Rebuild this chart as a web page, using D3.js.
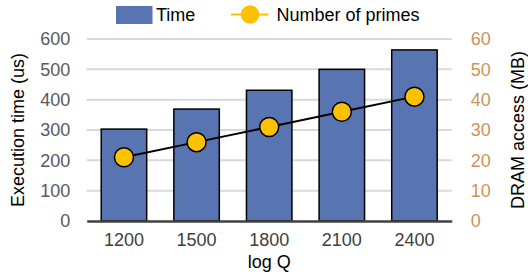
<!DOCTYPE html>
<html>
<head>
<meta charset="utf-8">
<script src="https://cdn.jsdelivr.net/npm/d3@7"></script>
<style>
body { margin: 0; background: #fff; }
text { font-family: "Liberation Sans", Arial, sans-serif; }
</style>
</head>
<body>
<svg id="chart"></svg>
<script>
var categories = ["1200", "1500", "1800", "2100", "2400"]
var timeValues = [303, 369, 431, 500, 564]
var primeValues = [21, 26, 31, 36, 41]
var leftTicks = [0, 100, 200, 300, 400, 500, 600]
var rightTicks = [0, 10, 20, 30, 40, 50, 60]

var svgw = 528
var svgh = 276
var plot = {left: 86.7, right: 451.7, top: 39, bottom: 221}

var svg = d3.select("#chart")
    .attr("width", svgw)
    .attr("height", svgh)

var xscale = d3.scaleBand()
    .domain(categories)
    .range([plot.left, plot.right])
    .paddingInner(0.374)
    .paddingOuter(0.2)

var yleft = d3.scaleLinear()
    .domain([0, 600])
    .range([plot.bottom, plot.top])

var yright = d3.scaleLinear()
    .domain([0, 60])
    .range([plot.bottom, plot.top])

// gridlines
svg.append("g")
    .selectAll("line")
    .data(leftTicks.slice(1))
    .enter()
    .append("line")
    .attr("x1", plot.left)
    .attr("x2", plot.right)
    .attr("y1", function(d){return yleft(d)})
    .attr("y2", function(d){return yleft(d)})
    .attr("stroke", "#d9d9d9")
    .attr("stroke-width", 2)

// left tick labels
var leftAxis = d3.axisLeft(yleft).tickValues(leftTicks).tickSize(0).tickPadding(16.5)
svg.append("g")
    .attr("transform", "translate(" + plot.left + ",0)")
    .call(leftAxis)
    .call(function(g){ g.select(".domain").remove() })
    .selectAll("text")
    .attr("font-size", 18)
    .attr("font-family", "Liberation Sans, Arial, sans-serif")
    .attr("fill", "#595959")

// right tick labels
var rightAxis = d3.axisRight(yright).tickValues(rightTicks).tickSize(0).tickPadding(19)
svg.append("g")
    .attr("transform", "translate(" + plot.right + ",0)")
    .call(rightAxis)
    .call(function(g){ g.select(".domain").remove() })
    .selectAll("text")
    .attr("font-size", 18)
    .attr("font-family", "Liberation Sans, Arial, sans-serif")
    .attr("fill", "#c9955a")

// bars
svg.append("g")
    .selectAll("rect")
    .data(timeValues)
    .enter()
    .append("rect")
    .attr("x", function(d,i){return xscale(categories[i])})
    .attr("y", function(d){return yleft(d)})
    .attr("width", xscale.bandwidth())
    .attr("height", function(d){return plot.bottom - yleft(d)})
    .attr("fill", "#5875b2")
    .attr("stroke", "#000")
    .attr("stroke-width", 1.5)

// baseline
var xAxis = d3.axisBottom(xscale).tickSize(0).tickPadding(12)
svg.append("g")
    .attr("transform", "translate(0," + plot.bottom + ")")
    .call(xAxis)
    .call(function(g){
        g.select(".domain").attr("stroke", "#404040").attr("stroke-width", 2.5)
    })
    .selectAll("text")
    .attr("font-size", 18)
    .attr("font-family", "Liberation Sans, Arial, sans-serif")
    .attr("fill", "#404040")

// line
var line = d3.line()
    .x(function(d,i){return xscale(categories[i]) + xscale.bandwidth()/2})
    .y(function(d){return yright(d)})

svg.append("path")
    .datum(primeValues)
    .attr("d", line)
    .attr("fill", "none")
    .attr("stroke", "#000")
    .attr("stroke-width", 2)

svg.append("g")
    .selectAll("circle")
    .data(primeValues)
    .enter()
    .append("circle")
    .attr("cx", function(d,i){return xscale(categories[i]) + xscale.bandwidth()/2})
    .attr("cy", function(d){return yright(d)})
    .attr("r", 9.5)
    .attr("fill", "#ffc000")
    .attr("stroke", "#000")
    .attr("stroke-width", 1.5)

// axis titles
svg.append("text")
    .attr("transform", "translate(24,130) rotate(-90)")
    .attr("text-anchor", "middle")
    .attr("font-size", 18)
    .attr("fill", "#000")
    .text("Execution time (us)")

svg.append("text")
    .attr("transform", "translate(524,130) rotate(-90)")
    .attr("text-anchor", "middle")
    .attr("font-size", 18)
    .attr("fill", "#000")
    .text("DRAM access (MB)")

svg.append("text")
    .attr("x", (plot.left + plot.right)/2)
    .attr("y", 268)
    .attr("text-anchor", "middle")
    .attr("font-size", 18)
    .attr("fill", "#000")
    .text("log Q")

// legend
var legend = svg.append("g")
legend.append("rect")
    .attr("x", 116).attr("y", 6)
    .attr("width", 36.5).attr("height", 18)
    .attr("fill", "#5875b2")
legend.append("text")
    .attr("x", 156).attr("y", 21)
    .attr("font-size", 18)
    .attr("fill", "#000")
    .text("Time")
legend.append("line")
    .attr("x1", 231).attr("x2", 268.5)
    .attr("y1", 14.5).attr("y2", 14.5)
    .attr("stroke", "#ffc000")
    .attr("stroke-width", 2)
legend.append("circle")
    .attr("cx", 250).attr("cy", 14.5)
    .attr("r", 9.3)
    .attr("fill", "#ffc000")
legend.append("text")
    .attr("x", 276.5).attr("y", 21)
    .attr("font-size", 18)
    .attr("fill", "#000")
    .text("Number of primes")
</script>
</body>
</html>
